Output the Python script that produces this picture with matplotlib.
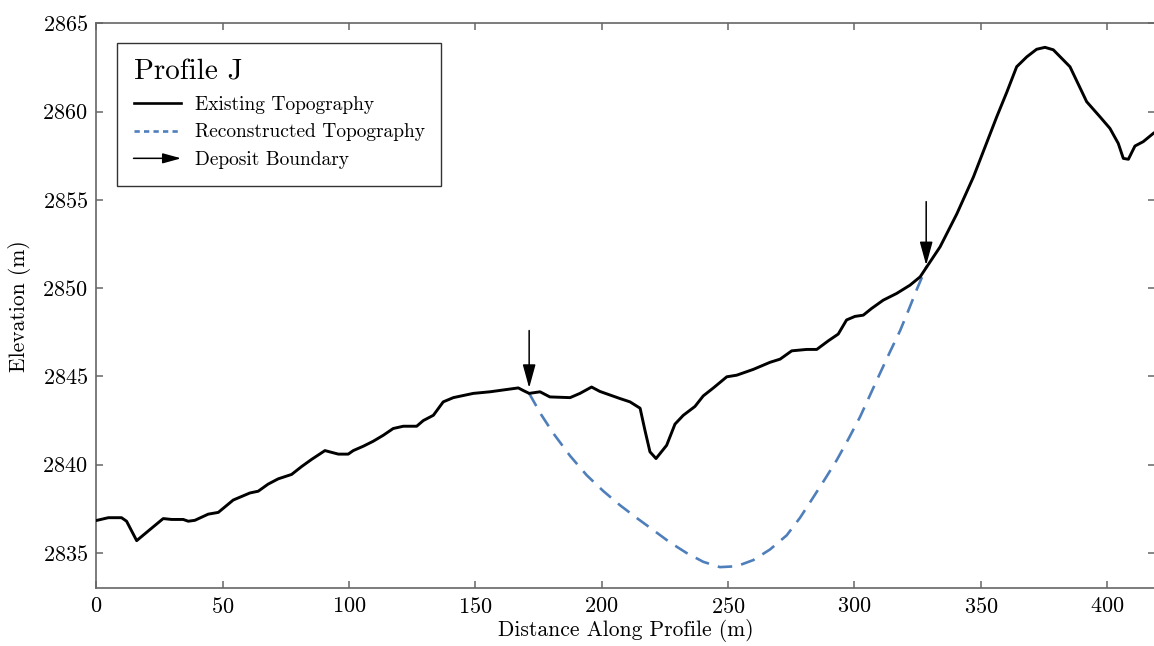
import matplotlib
matplotlib.use("Agg")
import matplotlib.pyplot as plt
from matplotlib.legend_handler import HandlerBase
from matplotlib.lines import Line2D
from matplotlib.patches import FancyArrowPatch

plt.rcParams["font.family"] = "serif"
plt.rcParams["font.serif"] = ["cmr10"]
plt.rcParams["mathtext.fontset"] = "cm"
plt.rcParams["axes.formatter.use_mathtext"] = True

# existing topography (distance m, elevation m)
dist = [0, 4.8, 10, 12, 16, 20.6, 26.5, 29.8, 34.4, 36.4,
        39, 44.3, 48.3, 54.2, 57.5, 60.8, 64.1, 68, 72, 77.3,
        81.3, 85.2, 90.5, 95.8, 99.7, 101.7, 105.7, 109.6, 113.6, 117.5,
        121.5, 126.8, 129.4, 133.4, 137.3, 141.3, 149.2, 155.8, 162.4, 167,
        169, 171.3, 175.6, 179.5, 187.5, 191.4, 196, 199.3, 207.2, 211.2,
        215.2, 217.1, 219.1, 221.5, 225.7, 229, 232.3, 236.9, 240.2, 244.2,
        249.5, 253.4, 260, 266.6, 270.6, 275.2, 281.1, 285.1, 289.7, 293.6,
        296.9, 300.2, 303.5, 306.8, 311.4, 316.7, 322, 326, 328.6, 333.9,
        340.5, 347.1, 351.7, 356.3, 360.3, 364.2, 368.2, 372.1, 375.4, 378.7,
        385.3, 391.9, 397.2, 401.1, 404.4, 406.4, 408.4, 411, 414.3, 418.3]
elev = [2836.84, 2837.0, 2837.0, 2836.8, 2835.7, 2836.25, 2836.95, 2836.9, 2836.9, 2836.8,
        2836.85, 2837.2, 2837.3, 2838.0, 2838.2, 2838.4, 2838.5, 2838.9, 2839.2, 2839.45,
        2839.9, 2840.3, 2840.8, 2840.6, 2840.6, 2840.8, 2841.05, 2841.33, 2841.67, 2842.05,
        2842.18, 2842.18, 2842.5, 2842.8, 2843.56, 2843.8, 2844.04, 2844.13, 2844.26, 2844.35,
        2844.2, 2844.04, 2844.13, 2843.84, 2843.8, 2844.04, 2844.4, 2844.15, 2843.75, 2843.56,
        2843.2, 2841.96, 2840.73, 2840.35, 2841.1, 2842.3, 2842.8, 2843.3, 2843.9, 2844.35,
        2844.98, 2845.07, 2845.4, 2845.8, 2845.98, 2846.45, 2846.53, 2846.53, 2847.02, 2847.4,
        2848.2, 2848.4, 2848.47, 2848.85, 2849.32, 2849.7, 2850.17, 2850.64, 2851.2, 2852.34,
        2854.2, 2856.3, 2858.0, 2859.7, 2861.1, 2862.54, 2863.1, 2863.53, 2863.64, 2863.5,
        2862.54, 2860.56, 2859.7, 2859.05, 2858.2, 2857.35, 2857.3, 2858.05, 2858.3, 2858.77]

# reconstructed surface below the deposit
rec_dist = [171.3, 176.0, 180.9, 187.5, 194.1, 200.7, 207.3, 213.9, 220.4, 227.0,
            233.6, 240.2, 246.8, 253.4, 260.0, 266.6, 273.2, 278.5, 283.7, 288.4,
            293.0, 297.6, 302.2, 306.2, 310.1, 314.1, 318.1, 321.4, 324.6, 328.6]
rec_elev = [2844.04, 2842.85, 2841.77, 2840.5, 2839.4, 2838.5, 2837.7, 2836.98, 2836.3, 2835.6,
            2835.0, 2834.5, 2834.2, 2834.25, 2834.6, 2835.2, 2836.0, 2837.0, 2838.15, 2839.2,
            2840.26, 2841.45, 2842.7, 2843.95, 2845.17, 2846.4, 2847.6, 2848.75, 2849.9, 2851.25]

# deposit boundary arrows: x, tail elevation, tip elevation
arrow_x = [171.3, 328.4]
arrow_top = [2847.6, 2854.9]
arrow_tip = [2844.35, 2851.3]

BLUE = "#4f7fbb"
GRAY = "#666666"


class ArrowHandler(HandlerBase):
    def create_artists(self, legend, orig_handle, xdescent, ydescent,
                       width, height, fontsize, trans):
        y = height / 2.0 - ydescent
        a = FancyArrowPatch((-xdescent, y), (-xdescent + width, y),
                            arrowstyle="-|>,head_length=0.8,head_width=0.22",
                            mutation_scale=14, color="black", lw=1.1,
                            shrinkA=0, shrinkB=0, transform=trans)
        return [a]


fig = plt.figure(figsize=(11.54, 6.46), dpi=100)
ax = fig.add_axes([0.0834, 0.0893, 0.9176, 0.8746])

ax.plot(dist, elev, color="black", lw=2.1, zorder=3)
ax.plot(rec_dist, rec_elev, color=BLUE, lw=1.9, dashes=(5.5, 3.5), zorder=2)

for xa, yt, yb in zip(arrow_x, arrow_top, arrow_tip):
    ax.annotate("", xy=(xa, yb), xytext=(xa, yt),
                arrowprops=dict(arrowstyle="-|>,head_length=0.8,head_width=0.22",
                                color="black", lw=1.1, mutation_scale=18,
                                shrinkA=0, shrinkB=0), zorder=4)

ax.set_xlim(0, 419)
ax.set_ylim(2833, 2865)
ax.set_xticks(range(0, 401, 50))
ax.set_yticks(range(2835, 2866, 5))
ax.set_xlabel("Distance Along Profile (m)", fontsize=15.5, labelpad=2)
ax.set_ylabel("Elevation (m)", fontsize=15.5, labelpad=8)

for s in ax.spines.values():
    s.set_color(GRAY)
    s.set_linewidth(1.2)
ax.tick_params(direction="in", length=5, width=1.1, color=GRAY,
               top=True, right=True, labelsize=16, pad=6)

h1 = Line2D([], [], color="black", lw=1.9)
h2 = Line2D([], [], color=BLUE, lw=1.9, dashes=(2.0, 1.6))
h3 = FancyArrowPatch((0, 0), (1, 0))
leg = ax.legend([h1, h2, h3],
                ["Existing Topography", "Reconstructed Topography", "Deposit Boundary"],
                handler_map={FancyArrowPatch: ArrowHandler()},
                title="Profile J", title_fontsize=21, fontsize=14,
                loc="upper left", bbox_to_anchor=(0.0196, 0.965), borderaxespad=0,
                fancybox=False, framealpha=1, edgecolor="#333333",
                handlelength=2.45, handletextpad=0.7, labelspacing=0.5,
                borderpad=0.85, alignment="left")
leg.get_frame().set_linewidth(1.0)

fig.savefig("out.png", dpi=100)
